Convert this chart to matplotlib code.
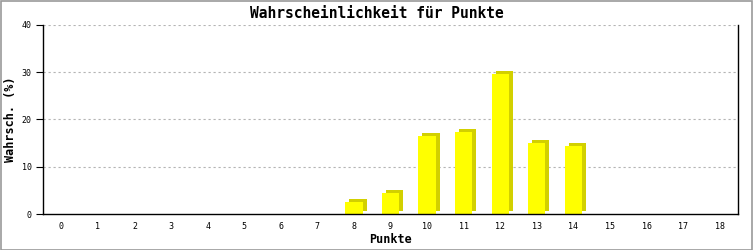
import numpy as np
import matplotlib.pyplot as plt
from matplotlib.patches import Rectangle
from matplotlib.transforms import ScaledTranslation

plt.rcParams['font.family'] = 'DejaVu Sans Mono'
plt.rcParams['lines.scale_dashes'] = False

# data
punkte = list(range(19))
wahrsch = [0, 0, 0, 0, 0, 0, 0, 0, 2.5, 4.4, 16.5, 17.3, 29.6, 15.0, 14.4, 0, 0, 0, 0]
y_ticks = [0, 10, 20, 30, 40]

BAR_COLOR = '#ffff00'
SHADOW_COLOR = '#d2d000'

fig = plt.figure(figsize=(7.53, 2.5), dpi=100)
ax = fig.add_axes([43 / 753, 36 / 250, 695 / 753, 189 / 250])

# only the non-zero bars are drawn
xs = [p for p, v in zip(punkte, wahrsch) if v > 0]
vs = [v for v in wahrsch if v > 0]

# shadow: same bars shifted 4px right, 3px up
shift = ax.transData + ScaledTranslation(4 / 100, 3 / 100, fig.dpi_scale_trans)
ax.bar(xs, vs, width=0.47, color=SHADOW_COLOR, linewidth=0, transform=shift, zorder=2)
ax.bar(xs, vs, width=0.47, color=BAR_COLOR, linewidth=0, zorder=3)

ax.set_xlim(-0.5, 18.5)
ax.set_ylim(0, 40)
ax.set_xticks(punkte)
ax.set_yticks(y_ticks)
ax.tick_params(axis='x', length=0, labelsize=6, pad=6)
ax.tick_params(axis='y', length=5, width=0.8, labelsize=6, pad=3)

for y in y_ticks[1:]:
    ax.axhline(y, color='#b4b4b4', lw=0.8, dashes=(1.6, 2.0), zorder=1)

ax.spines['top'].set_visible(False)
for s in ['left', 'right', 'bottom']:
    ax.spines[s].set_linewidth(1.0)
    ax.spines[s].set_color('black')
ax.spines['bottom'].set_zorder(4)

ax.set_xlabel('Punkte', fontsize=8.5, fontweight='bold', labelpad=1)
ax.set_ylabel('Wahrsch. (%)', fontsize=8.5, fontweight='bold')
ax.yaxis.set_label_coords(-26 / 695, 0.5)
fig.text(0.5, 1 - 13 / 250, 'Wahrscheinlichkeit für Punkte', ha='center', va='center',
         fontsize=10.5, fontweight='bold')

# grey frame around the image
fig.patches.append(Rectangle((0.0007, 0.002), 0.9986, 0.996, transform=fig.transFigure,
                             fill=False, edgecolor='#999999', lw=1.2))

fig.savefig('out.png', dpi=100)
